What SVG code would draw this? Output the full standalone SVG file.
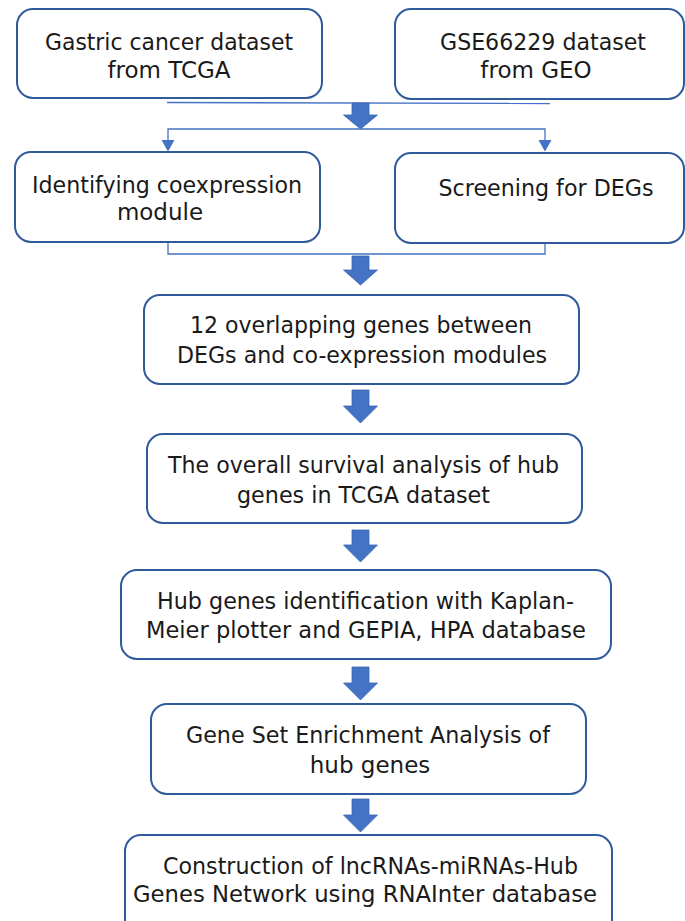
<svg xmlns="http://www.w3.org/2000/svg" width="685" height="921" viewBox="0 0 685 921">
<defs>
<style>
.box{fill:#ffffff;stroke:#2f5a9c;stroke-width:2}
.t{font-family:"DejaVu Sans","Liberation Sans",sans-serif;font-size:23px;fill:#1a1a1a;text-anchor:middle}
.thin{fill:none;stroke:#4472c4;stroke-width:1.3}
.big{fill:#4472c4;stroke:#3a64b0;stroke-width:0.8}
.small{fill:#4472c4}
</style>
</defs>
<rect width="685" height="921" fill="#ffffff"/>
<g id="connectors">
<line class="thin" x1="167" y1="102.5" x2="550" y2="103.5"/>
<path class="big" d="M352,103 H369 V115 H377.5 L360.5,129 L343.5,115 H352 Z"/>
<path class="thin" d="M168,141 V129 H545 V141"/>
<path class="small" d="M161.5,140 H174.5 L168,151.5 Z"/>
<path class="small" d="M538.5,140 H551.5 L545,151.5 Z"/>
<path class="thin" d="M168,242 V254 H545 V243"/>
<path class="big" d="M352,256 H369 V270 H377.5 L360.5,285 L343.5,270 H352 Z"/>
<path class="big" d="M352,390 H369 V406 H377.5 L360.5,423 L343.5,406 H352 Z"/>
<path class="big" d="M352,530 H369 V545 H377.5 L360.5,562 L343.5,545 H352 Z"/>
<path class="big" d="M352,667 H369 V683 H377.5 L360.5,700 L343.5,683 H352 Z"/>
<path class="big" d="M352,799 H369 V815 H377.5 L360.5,832 L343.5,815 H352 Z"/>
</g>
<g id="n1">
<rect class="box" x="17" y="9" width="305" height="89" rx="16"/>
<text class="t" x="169" y="50" textLength="248" lengthAdjust="spacingAndGlyphs">Gastric cancer dataset</text>
<text class="t" x="169" y="78">from TCGA</text>
</g>
<g id="n2">
<rect class="box" x="395" y="9" width="289" height="90" rx="16"/>
<text class="t" x="543" y="50" textLength="206" lengthAdjust="spacingAndGlyphs">GSE66229 dataset</text>
<text class="t" x="536" y="78">from GEO</text>
</g>
<g id="n3">
<rect class="box" x="15" y="152" width="305" height="90" rx="16"/>
<text class="t" x="167" y="193" textLength="270" lengthAdjust="spacingAndGlyphs">Identifying coexpression</text>
<text class="t" x="160" y="220">module</text>
</g>
<g id="n4">
<rect class="box" x="395" y="153" width="289" height="90" rx="16"/>
<text class="t" x="546" y="196" textLength="215" lengthAdjust="spacingAndGlyphs">Screening for DEGs</text>
</g>
<g id="n5">
<rect class="box" x="144" y="295" width="435" height="89" rx="16"/>
<text class="t" x="361" y="333" textLength="342" lengthAdjust="spacingAndGlyphs">12 overlapping genes between</text>
<text class="t" x="362" y="363" textLength="370" lengthAdjust="spacingAndGlyphs">DEGs and co-expression modules</text>
</g>
<g id="n6">
<rect class="box" x="147" y="434" width="435" height="89" rx="16"/>
<text class="t" x="363.5" y="473" textLength="391" lengthAdjust="spacingAndGlyphs">The overall survival analysis of hub</text>
<text class="t" x="363.5" y="503" textLength="253" lengthAdjust="spacingAndGlyphs">genes in TCGA dataset</text>
</g>
<g id="n7">
<rect class="box" x="121" y="570" width="490" height="89" rx="16"/>
<text class="t" x="365.5" y="609" textLength="417" lengthAdjust="spacingAndGlyphs">Hub genes identification with Kaplan-</text>
<text class="t" x="366" y="638" textLength="440" lengthAdjust="spacingAndGlyphs">Meier plotter and GEPIA, HPA database</text>
</g>
<g id="n8">
<rect class="box" x="151" y="704" width="435" height="90" rx="16"/>
<text class="t" x="368" y="743" textLength="364" lengthAdjust="spacingAndGlyphs">Gene Set Enrichment Analysis of</text>
<text class="t" x="370" y="773">hub genes</text>
</g>
<g id="n9">
<rect class="box" x="125" y="835" width="487" height="100" rx="16"/>
<text class="t" x="370.5" y="874" textLength="415" lengthAdjust="spacingAndGlyphs">Construction of lncRNAs-miRNAs-Hub</text>
<text class="t" x="365" y="902" textLength="464" lengthAdjust="spacingAndGlyphs">Genes Network using RNAInter database</text>
</g>
</svg>
